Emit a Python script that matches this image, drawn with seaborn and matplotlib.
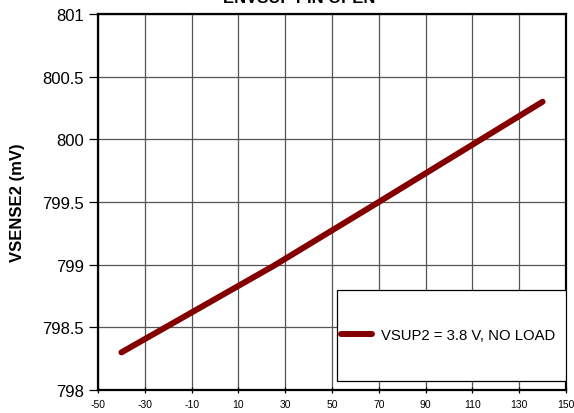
import numpy as np
import pandas as pd
import matplotlib
matplotlib.use("Agg")
import matplotlib.pyplot as plt
from matplotlib.patches import Rectangle
import seaborn as sns

# chart data
TEMPS = [-40, 25, 70, 140]
VSENSE2 = [798.30, 798.99, 799.50, 800.30]
SERIES_LABEL = 'VSUP2 = 3.8 V, NO LOAD'
X_TICKS = list(range(-50, 151, 20))
Y_TICKS = [798, 798.5, 799, 799.5, 800, 800.5, 801]
Y_TICK_LABELS = ['798', '798.5', '799', '799.5', '800', '800.5', '801']

TITLE_TEXT = 'ENVSUP PIN OPEN'
YLABEL_TEXT = 'VSENSE2 (mV)'
LINE_COLOR = '#840000'
GRID_COLOR = '#555555'


def main():
    sns.set_style("white")
    plt.rcParams['font.family'] = ['Liberation Sans', 'DejaVu Sans']
    plt.rcParams['axes.unicode_minus'] = False
    for key in ['text.color', 'axes.labelcolor', 'xtick.color', 'ytick.color']:
        plt.rcParams[key] = 'black'

    data = pd.DataFrame({'temp': TEMPS, 'vsense': VSENSE2})

    fig = plt.figure(figsize=(5.74, 4.14), dpi=100)
    ax = fig.add_axes([98 / 574, 1 - 391 / 414, 468 / 574, 376 / 414])

    sns.lineplot(data=data, x='temp', y='vsense', ax=ax, color=LINE_COLOR,
                 linewidth=4.3, solid_capstyle='round', label=SERIES_LABEL)

    ax.set_xlim(-50, 150)
    ax.set_ylim(798, 801)
    ax.set_xticks(X_TICKS)
    ax.set_xticklabels([str(t) for t in X_TICKS])
    ax.set_yticks(Y_TICKS)
    ax.set_yticklabels(Y_TICK_LABELS)
    ax.grid(True, color=GRID_COLOR, linewidth=0.9)

    for side in ['left', 'right', 'top', 'bottom']:
        ax.spines[side].set_visible(True)
        ax.spines[side].set_color('black')
        ax.spines[side].set_linewidth(1.6)

    ax.tick_params(axis='y', labelsize=12, direction='out', length=6.5, width=0.9,
                   pad=3.5, left=True, colors='black')
    ax.tick_params(axis='x', labelsize=7.5, direction='inout', length=5, width=0.9,
                   pad=4, bottom=True, colors='black')

    ax.set_xlabel('')
    ax.set_ylabel(YLABEL_TEXT, fontsize=12, fontweight='bold', color='black')
    ax.yaxis.set_label_coords(-0.155, 0.5)

    # legend box
    box = Rectangle((0.511, 0.024), 0.489, 0.242, transform=ax.transAxes,
                    facecolor='white', edgecolor='black', linewidth=0.9, zorder=5)
    ax.add_patch(box)
    leg = ax.legend(loc='center left', bbox_to_anchor=(0.512, 0.146), frameon=False,
                    fontsize=10.7, handlelength=2.1, handletextpad=0.6,
                    borderpad=0.2, borderaxespad=0, labelcolor='black')
    leg.set_zorder(6)

    # title cut off at the top edge, as in the reference
    fig.text(0.521, 1 - 3 / 414, TITLE_TEXT, ha='center', va='baseline',
             fontsize=12, fontweight='bold', color='black')

    fig.savefig('out.png', dpi=100)


if __name__ == "__main__":
    main()
